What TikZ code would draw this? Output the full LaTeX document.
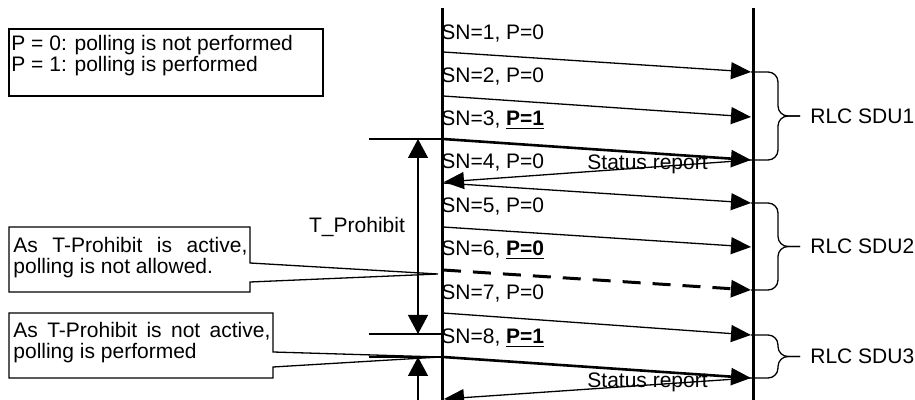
\documentclass[tikz,border=0pt]{standalone}
\usepackage{fontspec}
\setmainfont{Liberation Sans}
\usetikzlibrary{arrows.meta,positioning,calc}

\begin{document}
\begin{tikzpicture}[
    x=0.5pt, y=-0.5pt,
    font=\fontsize{10.5}{10.3}\selectfont,
    lifeline/.style={line width=1.5pt},
    pdu/.style={-{Triangle[length=10pt,width=8.5pt]}, line width=0.65pt},
    polled/.style={pdu, line width=1.3pt},
    blocked/.style={pdu, line width=1.5pt, dash pattern=on 9pt off 6pt},
    timer/.style={{Triangle[length=9.5pt,width=10pt]}-{Triangle[length=9.5pt,width=10pt]}, line width=0.65pt},
    timerstart/.style={{Triangle[length=9.5pt,width=10pt]}-, line width=0.65pt},
    thinline/.style={line width=0.65pt},
    sdubrace/.style={line width=0.65pt, rounded corners=5pt},
    pdulabel/.style={anchor=base west, inner sep=0pt},
    notetext/.style={anchor=north west, inner sep=0pt, align=left}
]
    \useasboundingbox (0,0) rectangle (915,400);

    % sender and receiver
    \coordinate (txtop) at (442,8);
    \coordinate (txbot) at (442,400);
    \coordinate (rxtop) at (753,8);
    \coordinate (rxbot) at (753,400);
    \draw[lifeline] (txtop) -- (txbot);
    \draw[lifeline] (rxtop) -- (rxbot);

    % PDU end points
    \foreach \n/\ys/\ye in {1/52/72, 2/96/117, 3/139/160, 4/183/203, 5/227/247, 6/270/290, 7/313/335, 8/357/378} {
        \coordinate (s\n) at (443,\ys);
        \coordinate (e\n) at (751,\ye);
    }
    \coordinate (r1) at (444,182);
    \coordinate (r2) at (444,399);

    \foreach \n/\yb/\p in {1/39.5/P=0, 2/82.5/P=0, 3/125.5/{\underline{\textbf{P=1}}}, 4/168.5/P=0, 5/212.5/P=0, 6/255.5/{\underline{\textbf{P=0}}}, 7/299.5/P=0, 8/343.5/{\underline{\textbf{P=1}}}}
        \node[pdulabel] (sn\n) at (441,\yb) {SN=\n, \p};

    \foreach \n in {1,2,4,5,7}
        \draw[pdu] (s\n) -- (e\n);
    \draw[polled] (s3) -- (e3);
    \draw[polled] (s8) -- (e8);
    \draw[blocked] (s6) -- (e6);

    % status reports
    \draw[pdu] (e3) -- (r1);
    \draw[pdu] (e8) -- (r2);
    \node[pdulabel] (rep1) at (587,169.5) {Status report};
    \node[pdulabel] (rep2) at (587,387.5) {Status report};

    % RLC SDUs
    \coordinate (bx) at (778,0);
    \coordinate (tipx) at (800,0);
    \coordinate (lblx) at (810,0);
    \foreach \a/\b/\lab [count=\i] in {e1/e3/RLC SDU1, e4/e6/RLC SDU2, e7/e8/RLC SDU3} {
        \path (\a) -- (\b) coordinate[midway] (mid\i);
        \draw[sdubrace] (\a) -| (mid\i -| bx) -- (mid\i -| tipx);
        \draw[sdubrace] (\b) -| (mid\i -| bx) -- (mid\i -| tipx);
        \node[anchor=west, inner sep=0pt] (sdu\i) at (mid\i -| lblx) {\lab};
    }

    % T_Prohibit
    \coordinate (tp1top) at (418,139);
    \coordinate (tp1bot) at (418,334);
    \coordinate (tp2top) at (418,357);
    \coordinate (tp2bot) at (418,400);
    \coordinate (m1) at (369,139);
    \coordinate (m2) at (369,334);
    \coordinate (m3) at (369,357);
    \draw[thinline] (m1) -- (s3);
    \draw[thinline] (m2) -- (m2 -| txtop);
    \draw[thinline] (m3) -- (s8);
    \draw[timer] (tp1top) -- (tp1bot);
    \draw[timerstart] (tp2top) -- (tp2bot);
    \node (tprohibit) at (357,227) {T\_Prohibit};

    % notes
    \draw[thinline] (9,29) rectangle (323,96);
    \node[notetext] (legend) at (11,35) {P = 0: polling is not performed\\P = 1: polling is performed};

    \coordinate (tipA) at (438,274);
    \draw[thinline] (9,227) -- (250,227) -- (250,263) -- (tipA) -- (250,282) -- (250,292) -- (9,292) -- cycle;
    \node[notetext] (noteA) at (13,237) {\makebox[117pt][s]{As T-Prohibit is active,}\\polling is not allowed.};

    \coordinate (tipB) at (440,357);
    \draw[thinline] (9,313) -- (273,313) -- (273,352) -- (tipB) -- (273,367) -- (273,378) -- (9,378) -- cycle;
    \node[notetext] (noteB) at (13,322) {\makebox[128.5pt][s]{As T-Prohibit is not active,}\\polling is performed};
\end{tikzpicture}
\end{document}
